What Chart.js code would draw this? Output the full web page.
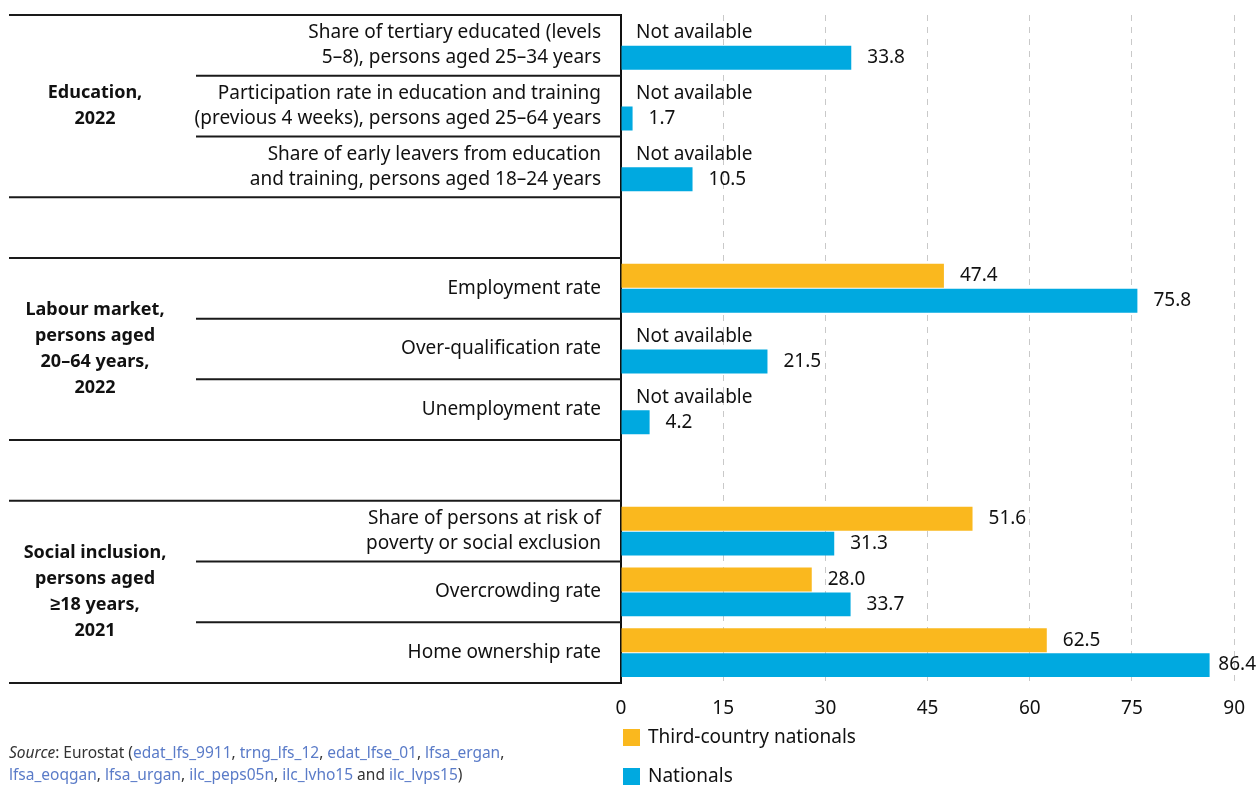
<!DOCTYPE html>
<html>
<head>
<meta charset="utf-8">
<script src="https://cdn.jsdelivr.net/npm/chart.js@4.4.0/dist/chart.umd.min.js"></script>
<style>
    body { margin: 0; background: #fff; }
    #wrap { position: relative; width: 1259px; height: 785px; }
    #source {
        position: absolute; left: 9px; top: 741px;
        font-family: "Noto Sans", sans-serif; font-size: 15.5px; line-height: 22px; color: #333;
    }
    #source a { color: #5a7bc8; text-decoration: none; }
</style>
</head>
<body>
<div id="wrap">
    <canvas id="myChart" width="1259" height="785"></canvas>
    <div id="source"><i>Source</i>: Eurostat (<a>edat_lfs_9911</a>, <a>trng_lfs_12</a>, <a>edat_lfse_01</a>, <a>lfsa_ergan</a>,<br><a>lfsa_eoqgan</a>, <a>lfsa_urgan</a>, <a>ilc_peps05n</a>, <a>ilc_lvho15</a> and <a>ilc_lvps15</a>)</div>
</div>
<script>
    const categories = [
        ["Share of tertiary educated (levels", "5–8), persons aged 25–34 years"],
        ["Participation rate in education and training", "(previous 4 weeks), persons aged 25–64 years"],
        ["Share of early leavers from education", "and training, persons aged 18–24 years"],
        "",
        "Employment rate",
        "Over-qualification rate",
        "Unemployment rate",
        "",
        ["Share of persons at risk of", "poverty or social exclusion"],
        "Overcrowding rate",
        "Home ownership rate"
    ];
    const thirdCountry = [null, null, null, null, 47.4, null, null, null, 51.6, 28.0, 62.5];
    const nationals = [33.8, 1.7, 10.5, null, 75.8, 21.5, 4.2, null, 31.3, 33.7, 86.4];
    const seriesNames = ["Third-country nationals", "Nationals"];
    const seriesColors = ["#fab81e", "#00a9e0"];

    // group headings and the first/last category row each one spans
    const groupLabels = [
        ["Education,", "2022"],
        ["Labour market,", "persons aged", "20–64 years,", "2022"],
        ["Social inclusion,", "persons aged", "≥18 years,", "2021"]
    ];
    const groupRows = [[0, 2], [4, 6], [8, 10]];
    const xTicks = [0, 15, 30, 45, 60, 75, 90];

    const FONT = "'Noto Sans', sans-serif";
    Chart.defaults.font.family = FONT;
    Chart.defaults.color = "#111";

    // table rules and group headings to the left of the axis
    const tablePlugin = {
        id: "table",
        afterDraw(chart) {
            const ctx = chart.ctx;
            const y = chart.scales.y;
            const left = chart.chartArea.left;
            const rowH = y.getPixelForValue(1) - y.getPixelForValue(0);
            ctx.save();
            ctx.strokeStyle = "#1a1a1a";
            ctx.lineWidth = 2;
            groupRows.forEach(([from, to], g) => {
                const top = y.getPixelForValue(from) - rowH / 2;
                const bottom = y.getPixelForValue(to) + rowH / 2;
                [top, bottom].forEach(py => {
                    ctx.beginPath();
                    ctx.moveTo(9, py);
                    ctx.lineTo(left, py);
                    ctx.stroke();
                });
                for (let i = from; i < to; i++) {
                    const py = y.getPixelForValue(i) + rowH / 2;
                    ctx.beginPath();
                    ctx.moveTo(196, py);
                    ctx.lineTo(left, py);
                    ctx.stroke();
                }
                const lines = groupLabels[g];
                const mid = (top + bottom) / 2;
                const lh = 26;
                ctx.fillStyle = "#111";
                ctx.font = "bold 18px " + FONT;
                ctx.textAlign = "center";
                ctx.textBaseline = "middle";
                lines.forEach((t, k) => {
                    ctx.fillText(t, 95, mid + (k - (lines.length - 1) / 2) * lh);
                });
            });
            ctx.restore();
        }
    };

    // value labels, "Not available" notes and the legend
    const labelPlugin = {
        id: "labels",
        afterDatasetsDraw(chart) {
            const ctx = chart.ctx;
            const x0 = chart.scales.x.getPixelForValue(0);
            const metaTc = chart.getDatasetMeta(0);
            const metaNat = chart.getDatasetMeta(1);
            ctx.save();
            ctx.font = "19px " + FONT;
            ctx.fillStyle = "#111";
            ctx.textBaseline = "middle";
            ctx.textAlign = "left";
            [metaTc, metaNat].forEach((meta, d) => {
                const values = d === 0 ? thirdCountry : nationals;
                meta.data.forEach((bar, i) => {
                    const v = values[i];
                    if (v === null) {
                        if (d === 0 && nationals[i] !== null) {
                            ctx.fillText("Not available", x0 + 15, bar.y);
                        }
                        return;
                    }
                    const txt = v.toFixed(1);
                    const w = ctx.measureText(txt).width;
                    const tx = Math.min(bar.x + 16, chart.width - 3 - w);
                    ctx.fillText(txt, tx, bar.y);
                });
            });

            // legend, stacked under the axis labels
            ctx.font = "19px " + FONT;
            seriesNames.forEach((name, k) => {
                const ly = 738 + k * 39;
                ctx.fillStyle = seriesColors[k];
                ctx.fillRect(x0 + 2, ly - 9, 17, 17);
                ctx.fillStyle = "#111";
                ctx.fillText(name, x0 + 27, ly);
            });
            ctx.restore();
        }
    };

    const config = {
        type: "bar",
        data: {
            labels: categories,
            datasets: seriesNames.map((name, k) => ({
                label: name,
                data: k === 0 ? thirdCountry : nationals,
                backgroundColor: seriesColors[k],
                categoryPercentage: 0.82,
                barPercentage: 0.96
            }))
        },
        options: {
            indexAxis: "y",
            responsive: false,
            animation: false,
            layout: { padding: { top: 15, right: 20, bottom: 0, left: 0 } },
            plugins: {
                legend: { display: false },
                tooltip: { enabled: false }
            },
            scales: {
                x: {
                    min: 0,
                    max: 90,
                    afterFit: s => { s.height = 102; },
                    afterBuildTicks: s => { s.ticks = xTicks.map(v => ({ value: v })); },
                    ticks: { font: { size: 19 }, color: "#111", padding: 14 },
                    grid: {
                        drawTicks: false,
                        color: c => c.tick && c.tick.value === 0 ? "rgba(0,0,0,0)" : "#c9c9c9",
                        lineWidth: 1
                    },
                    border: { display: false, dash: [6, 6] }
                },
                y: {
                    afterFit: s => {
                        s.width = 621;
                        s.paddingTop = 0;
                        s.paddingBottom = 0;
                    },
                    ticks: {
                        autoSkip: false,
                        font: { size: 19, lineHeight: 1.3 },
                        color: "#111",
                        padding: 12
                    },
                    grid: { display: false },
                    border: { display: true, color: "#111", width: 2 }
                }
            }
        },
        plugins: [tablePlugin, labelPlugin]
    };

    new Chart(document.getElementById("myChart"), config);
</script>
</body>
</html>
